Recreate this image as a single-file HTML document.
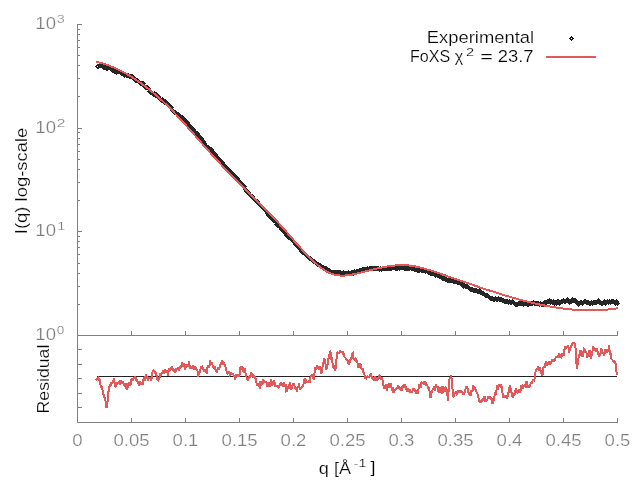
<!DOCTYPE html>
<html><head><meta charset="utf-8"><style>html,body{margin:0;padding:0;background:#fff;}svg{display:block;will-change:transform;}text{stroke:#fff;stroke-width:0.2px;}</style></head>
<body><svg width="640" height="480" viewBox="0 0 640 480" font-family="Liberation Sans, sans-serif">
<rect width="640" height="480" fill="#fff"/>
<path d="M77.5 24 V422.5 H618 M77 335.5 H618" stroke="#808080" stroke-width="1" fill="none"/>
<path d="M77 335.5h5 M77 304.5h3 M77 286.5h3 M77 273.5h3 M77 263.5h3 M77 254.5h3 M77 247.5h3 M77 241.5h3 M77 236.5h3 M77 231.5h5 M77 200.5h3 M77 182.5h3 M77 169.5h3 M77 159.5h3 M77 151.5h3 M77 144.5h3 M77 138.5h3 M77 132.5h3 M77 128.5h5 M77 96.5h3 M77 78.5h3 M77 65.5h3 M77 55.5h3 M77 47.5h3 M77 40.5h3 M77 34.5h3 M77 29.5h3 M77 24.5h5 M77.5 335v-4 M77.5 422v-4 M131.5 335v-4 M131.5 422v-4 M185.5 335v-4 M185.5 422v-4 M239.5 335v-4 M239.5 422v-4 M293.5 335v-4 M293.5 422v-4 M347.5 335v-4 M347.5 422v-4 M401.5 335v-4 M401.5 422v-4 M455.5 335v-4 M455.5 422v-4 M509.5 335v-4 M509.5 422v-4 M563.5 335v-4 M563.5 422v-4 M617.5 335v-4 M617.5 422v-4 M77 349.5h5 M77 364.5h5 M77 378.5h5 M77 393.5h5 M77 407.5h5" stroke="#808080" stroke-width="1" fill="none"/>
<text transform="translate(35.361,339.8) scale(1.1569,1)" font-size="16" fill="#808080">10</text>
<text transform="translate(56.843,333.8) scale(1.1739,1)" font-size="11.5" fill="#808080">0</text>
<text transform="translate(35.361,235.6) scale(1.1569,1)" font-size="16" fill="#808080">10</text>
<text transform="translate(57.330,229.6) scale(1.2587,1)" font-size="11.5" fill="#808080">1</text>
<text transform="translate(35.361,133.0) scale(1.1569,1)" font-size="16" fill="#808080">10</text>
<text transform="translate(56.406,127.0) scale(1.4102,1)" font-size="11.5" fill="#808080">2</text>
<text transform="translate(35.361,28.8) scale(1.1569,1)" font-size="16" fill="#808080">10</text>
<text transform="translate(56.834,22.8) scale(1.2509,1)" font-size="11.5" fill="#808080">3</text>
<text transform="translate(77.50,446.3) scale(1.16,1)" font-size="16" fill="#808080" text-anchor="middle">0</text>
<text transform="translate(131.50,446.3) scale(1.16,1)" font-size="16" fill="#808080" text-anchor="middle">0.05</text>
<text transform="translate(185.50,446.3) scale(1.16,1)" font-size="16" fill="#808080" text-anchor="middle">0.1</text>
<text transform="translate(239.50,446.3) scale(1.16,1)" font-size="16" fill="#808080" text-anchor="middle">0.15</text>
<text transform="translate(293.50,446.3) scale(1.16,1)" font-size="16" fill="#808080" text-anchor="middle">0.2</text>
<text transform="translate(347.50,446.3) scale(1.16,1)" font-size="16" fill="#808080" text-anchor="middle">0.25</text>
<text transform="translate(401.50,446.3) scale(1.16,1)" font-size="16" fill="#808080" text-anchor="middle">0.3</text>
<text transform="translate(455.50,446.3) scale(1.16,1)" font-size="16" fill="#808080" text-anchor="middle">0.35</text>
<text transform="translate(509.50,446.3) scale(1.16,1)" font-size="16" fill="#808080" text-anchor="middle">0.4</text>
<text transform="translate(563.50,446.3) scale(1.16,1)" font-size="16" fill="#808080" text-anchor="middle">0.45</text>
<text transform="translate(617.50,446.3) scale(1.16,1)" font-size="16" fill="#808080" text-anchor="middle">0.5</text>
<text transform="translate(27,234.171) rotate(-90) scale(1.1526,1)" font-size="16" fill="#000">I(q) log-scale</text>
<text transform="translate(49.2,413.384) rotate(-90) scale(1.1045,1)" font-size="16" fill="#000">Residual</text>
<text transform="translate(318.833,473.7) scale(1.1302,1)" font-size="16" fill="#000">q [Å</text>
<text transform="translate(353.663,466.8) scale(1.2480,1)" font-size="11.5" fill="#000">-1</text>
<text transform="translate(370.200,473.2) scale(1.2000,1)" font-size="16" fill="#000">]</text>
<text transform="translate(426.770,42.8) scale(1.1500,1)" font-size="16" fill="#000">Experimental</text>
<text transform="translate(410.012,61.6) scale(1.0058,1)" font-size="16" fill="#000">FoXS χ</text>
<text transform="translate(465.917,55.6) scale(1.2672,1)" font-size="11.5" fill="#000">2</text>
<text transform="translate(480.204,61.6) scale(1.3568,1)" font-size="16" fill="#000">=</text>
<text transform="translate(497.700,61.8) scale(1.1523,1)" font-size="16" fill="#000">23.7</text>
<path d="M571 36h1v1h1v1h1v1h-1v1h-1v1h-1v-1h-1v-1h-1v-1h1v-1h1z M571 38h1v1h-1z" fill="#1a1a1a" fill-rule="evenodd" shape-rendering="crispEdges"/>
<path d="M546 57 H596" stroke="#e35858" stroke-width="2"/>
<path d="M97 376.5 H617" stroke="#222" stroke-width="1"/>
<path d="M96.0 380.5 L96.7 379.3 L97.4 378.0 L98.1 377.7 L98.8 379.5 L99.5 379.4 L100.2 382.8 L100.9 387.7 L101.6 386.3 L102.3 388.4 L103.0 393.0 L103.7 395.0 L104.4 397.3 L105.1 398.3 L105.8 403.2 L106.5 407.8 L107.2 404.1 L107.9 399.6 L108.6 390.4 L109.3 387.3 L110.0 384.6 L110.7 386.2 L111.4 382.4 L112.1 383.7 L112.8 381.6 L113.5 379.8 L114.2 378.6 L114.9 385.9 L115.6 386.8 L116.3 386.4 L117.0 382.4 L117.7 383.8 L118.4 382.0 L119.1 381.6 L119.8 384.6 L120.5 380.2 L121.2 381.4 L121.9 384.0 L122.6 381.8 L123.3 383.4 L124.0 384.6 L124.7 385.3 L125.4 383.4 L126.1 386.7 L126.8 390.0 L127.5 383.6 L128.2 387.3 L128.9 384.8 L129.6 382.2 L130.3 386.3 L131.0 382.8 L131.7 378.0 L132.4 379.7 L133.1 379.9 L133.8 377.6 L134.5 378.5 L135.2 376.1 L135.9 378.0 L136.6 381.7 L137.3 379.5 L138.0 383.4 L138.7 384.2 L139.4 385.8 L140.1 382.3 L140.8 382.7 L141.5 382.6 L142.2 384.0 L142.9 383.7 L143.6 378.0 L144.3 378.3 L145.0 380.5 L145.7 374.5 L146.4 376.8 L147.1 377.2 L147.8 380.2 L148.5 379.3 L149.2 377.6 L149.9 377.7 L150.6 378.2 L151.3 380.7 L152.0 374.0 L152.7 371.3 L153.4 370.4 L154.1 370.9 L154.8 372.2 L155.5 371.8 L156.2 375.3 L156.9 375.7 L157.6 380.2 L158.3 380.5 L159.0 378.4 L159.7 377.5 L160.4 373.2 L161.1 374.0 L161.8 372.2 L162.5 373.6 L163.2 370.1 L163.9 373.7 L164.6 369.9 L165.3 369.2 L166.0 372.3 L166.7 370.8 L167.4 372.5 L168.1 376.3 L168.8 369.3 L169.5 368.9 L170.2 369.7 L170.9 369.5 L171.6 367.3 L172.3 367.3 L173.0 370.2 L173.7 370.9 L174.4 368.9 L175.1 371.6 L175.8 371.1 L176.5 368.2 L177.2 370.1 L177.9 367.1 L178.6 370.3 L179.3 368.3 L180.0 367.7 L180.7 365.9 L181.4 366.4 L182.1 362.2 L182.8 363.5 L183.5 366.9 L184.2 362.8 L184.9 369.6 L185.6 363.9 L186.3 368.3 L187.0 364.4 L187.7 367.0 L188.4 365.0 L189.1 361.3 L189.8 367.7 L190.5 369.0 L191.2 366.9 L191.9 367.3 L192.6 367.5 L193.3 365.7 L194.0 369.7 L194.7 366.3 L195.4 368.1 L196.1 368.3 L196.8 370.3 L197.5 370.7 L198.2 376.5 L198.9 372.3 L199.6 373.2 L200.3 369.9 L201.0 367.2 L201.7 366.5 L202.4 366.4 L203.1 369.2 L203.8 370.0 L204.5 371.8 L205.2 370.4 L205.9 370.2 L206.6 373.6 L207.3 367.6 L208.0 365.4 L208.7 366.7 L209.4 367.4 L210.1 360.6 L210.8 363.8 L211.5 363.6 L212.2 362.0 L212.9 367.7 L213.6 366.9 L214.3 368.0 L215.0 367.6 L215.7 371.3 L216.4 370.6 L217.1 372.3 L217.8 368.7 L218.5 366.9 L219.2 370.3 L219.9 365.0 L220.6 365.0 L221.3 362.7 L222.0 360.2 L222.7 361.2 L223.4 364.5 L224.1 363.8 L224.8 365.1 L225.5 366.6 L226.2 370.4 L226.9 371.9 L227.6 373.7 L228.3 373.1 L229.0 371.2 L229.7 375.5 L230.4 375.2 L231.1 372.6 L231.8 373.7 L232.5 373.8 L233.2 374.2 L233.9 376.3 L234.6 375.5 L235.3 380.2 L236.0 373.8 L236.7 377.1 L237.4 375.5 L238.1 375.4 L238.8 376.5 L239.5 374.8 L240.2 368.6 L240.9 366.1 L241.6 369.7 L242.3 365.9 L243.0 369.3 L243.7 372.3 L244.4 368.8 L245.1 369.2 L245.8 375.3 L246.5 376.8 L247.2 378.4 L247.9 381.2 L248.6 378.6 L249.3 376.1 L250.0 377.6 L250.7 374.7 L251.4 372.2 L252.1 375.6 L252.8 375.5 L253.5 377.5 L254.2 375.8 L254.9 377.5 L255.6 378.9 L256.3 381.3 L257.0 385.7 L257.7 383.5 L258.4 385.6 L259.1 385.3 L259.8 388.5 L260.5 381.4 L261.2 385.8 L261.9 383.6 L262.6 383.1 L263.3 379.5 L264.0 380.7 L264.7 382.4 L265.4 381.1 L266.1 382.5 L266.8 382.8 L267.5 386.8 L268.2 385.5 L268.9 382.3 L269.6 386.4 L270.3 383.8 L271.0 379.6 L271.7 383.4 L272.4 385.5 L273.1 381.6 L273.8 380.2 L274.5 381.6 L275.2 386.7 L275.9 385.7 L276.6 386.4 L277.3 386.6 L278.0 386.2 L278.7 387.2 L279.4 386.1 L280.1 384.9 L280.8 382.4 L281.5 385.5 L282.2 383.1 L282.9 386.7 L283.6 382.5 L284.3 385.5 L285.0 386.4 L285.7 384.5 L286.4 391.3 L287.1 391.1 L287.8 385.9 L288.5 387.0 L289.2 385.8 L289.9 381.7 L290.6 389.4 L291.3 389.3 L292.0 388.1 L292.7 384.3 L293.4 384.5 L294.1 383.7 L294.8 388.3 L295.5 388.5 L296.2 389.0 L296.9 391.6 L297.6 386.9 L298.3 386.7 L299.0 383.3 L299.7 389.9 L300.4 388.5 L301.1 388.3 L301.8 387.6 L302.5 386.3 L303.2 385.6 L303.9 381.7 L304.6 378.8 L305.3 378.2 L306.0 382.6 L306.7 382.2 L307.4 382.4 L308.1 382.3 L308.8 380.2 L309.5 382.7 L310.2 378.5 L310.9 375.6 L311.6 375.1 L312.3 374.3 L313.0 377.1 L313.7 379.7 L314.4 373.8 L315.1 368.4 L315.8 368.3 L316.5 368.8 L317.2 365.3 L317.9 367.9 L318.6 366.5 L319.3 369.9 L320.0 366.5 L320.7 370.3 L321.4 373.3 L322.1 370.0 L322.8 365.0 L323.5 362.3 L324.2 359.4 L324.9 359.5 L325.6 364.6 L326.3 369.9 L327.0 367.5 L327.7 364.0 L328.4 358.7 L329.1 357.8 L329.8 351.0 L330.5 352.1 L331.2 359.4 L331.9 357.6 L332.6 364.1 L333.3 367.3 L334.0 366.7 L334.7 369.2 L335.4 370.5 L336.1 362.1 L336.8 357.2 L337.5 352.5 L338.2 352.6 L338.9 352.7 L339.6 352.7 L340.3 350.5 L341.0 352.3 L341.7 352.2 L342.4 353.0 L343.1 351.6 L343.8 354.6 L344.5 357.0 L345.2 357.6 L345.9 358.6 L346.6 359.6 L347.3 359.6 L348.0 361.3 L348.7 364.6 L349.4 362.6 L350.1 361.8 L350.8 356.8 L351.5 359.5 L352.2 353.4 L352.9 353.0 L353.6 358.6 L354.3 359.7 L355.0 359.5 L355.7 357.8 L356.4 361.5 L357.1 361.4 L357.8 364.6 L358.5 368.3 L359.2 365.0 L359.9 364.3 L360.6 364.8 L361.3 368.3 L362.0 369.3 L362.7 368.9 L363.4 372.9 L364.1 371.8 L364.8 377.8 L365.5 378.3 L366.2 378.6 L366.9 375.8 L367.6 378.0 L368.3 377.0 L369.0 376.7 L369.7 376.6 L370.4 374.5 L371.1 374.1 L371.8 378.3 L372.5 377.0 L373.2 378.7 L373.9 381.2 L374.6 376.6 L375.3 378.8 L376.0 380.1 L376.7 379.9 L377.4 377.8 L378.1 380.0 L378.8 378.2 L379.5 375.2 L380.2 375.6 L380.9 378.8 L381.6 379.8 L382.3 376.9 L383.0 385.3 L383.7 385.8 L384.4 389.2 L385.1 387.2 L385.8 386.7 L386.5 384.4 L387.2 391.0 L387.9 384.9 L388.6 387.8 L389.3 383.4 L390.0 386.1 L390.7 383.5 L391.4 387.2 L392.1 391.0 L392.8 387.2 L393.5 392.6 L394.2 391.8 L394.9 389.8 L395.6 389.9 L396.3 388.7 L397.0 388.3 L397.7 386.1 L398.4 385.9 L399.1 388.5 L399.8 388.7 L400.5 388.1 L401.2 389.8 L401.9 390.9 L402.6 385.4 L403.3 387.7 L404.0 385.6 L404.7 384.2 L405.4 388.1 L406.1 386.5 L406.8 391.6 L407.5 388.2 L408.2 391.3 L408.9 390.4 L409.6 389.6 L410.3 392.5 L411.0 391.3 L411.7 393.1 L412.4 391.5 L413.1 388.7 L413.8 389.9 L414.5 389.5 L415.2 391.4 L415.9 389.9 L416.6 393.9 L417.3 390.8 L418.0 393.4 L418.7 387.7 L419.4 384.1 L420.1 385.6 L420.8 387.6 L421.5 382.0 L422.2 382.6 L422.9 382.9 L423.6 381.8 L424.3 384.5 L425.0 381.8 L425.7 382.7 L426.4 386.1 L427.1 384.1 L427.8 387.3 L428.5 387.0 L429.2 389.8 L429.9 391.9 L430.6 398.3 L431.3 392.3 L432.0 391.8 L432.7 389.6 L433.4 388.3 L434.1 386.8 L434.8 391.0 L435.5 385.7 L436.2 385.2 L436.9 386.8 L437.6 386.7 L438.3 391.3 L439.0 391.8 L439.7 388.6 L440.4 388.0 L441.1 390.4 L441.8 394.2 L442.5 386.1 L443.2 392.8 L443.9 388.7 L444.6 392.0 L445.3 386.9 L446.0 387.5 L446.7 389.5 L447.4 394.9 L448.1 401.3 L448.8 385.4 L449.5 378.7 L450.2 377.8 L450.9 375.7 L451.6 378.7 L452.3 384.8 L453.0 397.3 L453.7 395.9 L454.4 392.3 L455.1 393.0 L455.8 391.6 L456.5 393.9 L457.2 395.2 L457.9 391.3 L458.6 390.2 L459.3 391.7 L460.0 390.8 L460.7 390.8 L461.4 392.4 L462.1 390.8 L462.8 394.3 L463.5 393.2 L464.2 393.7 L464.9 391.3 L465.6 388.8 L466.3 386.9 L467.0 386.8 L467.7 388.4 L468.4 392.2 L469.1 393.9 L469.8 393.3 L470.5 395.7 L471.2 391.3 L471.9 391.2 L472.6 390.3 L473.3 385.5 L474.0 388.9 L474.7 388.2 L475.4 388.5 L476.1 390.3 L476.8 392.8 L477.5 393.8 L478.2 397.3 L478.9 398.9 L479.6 402.3 L480.3 400.5 L481.0 402.4 L481.7 401.3 L482.4 399.7 L483.1 398.3 L483.8 400.5 L484.5 396.2 L485.2 400.6 L485.9 400.3 L486.6 400.5 L487.3 400.3 L488.0 397.0 L488.7 396.6 L489.4 397.3 L490.1 396.3 L490.8 398.7 L491.5 398.2 L492.2 403.8 L492.9 403.2 L493.6 401.0 L494.3 397.6 L495.0 392.1 L495.7 395.2 L496.4 391.5 L497.1 385.6 L497.8 390.3 L498.5 385.4 L499.2 384.6 L499.9 384.8 L500.6 387.4 L501.3 384.7 L502.0 388.9 L502.7 394.8 L503.4 397.4 L504.1 396.5 L504.8 396.6 L505.5 395.0 L506.2 396.5 L506.9 399.1 L507.6 396.6 L508.3 393.1 L509.0 392.0 L509.7 385.5 L510.4 387.1 L511.1 391.3 L511.8 393.5 L512.5 397.0 L513.2 397.2 L513.9 394.6 L514.6 394.8 L515.3 390.9 L516.0 388.4 L516.7 393.1 L517.4 392.1 L518.1 393.2 L518.8 389.4 L519.5 392.4 L520.2 391.6 L520.9 389.3 L521.6 384.8 L522.3 386.9 L523.0 387.6 L523.7 386.7 L524.4 384.9 L525.1 386.2 L525.8 387.9 L526.5 381.1 L527.2 386.2 L527.9 386.8 L528.6 386.3 L529.3 387.5 L530.0 385.6 L530.7 383.3 L531.4 382.7 L532.1 383.1 L532.8 379.9 L533.5 380.3 L534.2 380.5 L534.9 377.9 L535.6 371.5 L536.3 370.0 L537.0 368.7 L537.7 369.2 L538.4 366.6 L539.1 371.0 L539.8 367.6 L540.5 370.7 L541.2 372.1 L541.9 375.6 L542.6 374.6 L543.3 367.5 L544.0 366.8 L544.7 367.3 L545.4 364.0 L546.1 361.5 L546.8 365.9 L547.5 364.0 L548.2 363.5 L548.9 361.4 L549.6 364.3 L550.3 361.7 L551.0 364.2 L551.7 360.1 L552.4 360.1 L553.1 362.0 L553.8 359.4 L554.5 361.3 L555.2 359.6 L555.9 356.4 L556.6 357.6 L557.3 355.9 L558.0 357.6 L558.7 354.0 L559.4 353.8 L560.1 356.5 L560.8 358.0 L561.5 356.9 L562.2 353.0 L562.9 354.6 L563.6 355.8 L564.3 350.6 L565.0 347.0 L565.7 347.3 L566.4 347.9 L567.1 346.7 L567.8 346.3 L568.5 348.1 L569.2 352.7 L569.9 347.8 L570.6 347.1 L571.3 346.0 L572.0 345.3 L572.7 341.9 L573.4 343.6 L574.1 342.2 L574.8 344.5 L575.5 347.6 L576.2 359.4 L576.9 368.9 L577.6 364.4 L578.3 359.8 L579.0 354.6 L579.7 355.8 L580.4 350.6 L581.1 351.2 L581.8 351.9 L582.5 356.6 L583.2 352.2 L583.9 348.7 L584.6 349.1 L585.3 352.3 L586.0 350.8 L586.7 353.6 L587.4 357.4 L588.1 354.8 L588.8 353.9 L589.5 350.4 L590.2 355.4 L590.9 358.5 L591.6 355.1 L592.3 353.5 L593.0 346.1 L593.7 349.6 L594.4 347.7 L595.1 349.9 L595.8 351.4 L596.5 350.3 L597.2 348.6 L597.9 353.7 L598.6 354.3 L599.3 356.2 L600.0 354.2 L600.7 353.3 L601.4 347.9 L602.1 353.7 L602.8 351.9 L603.5 353.8 L604.2 355.7 L604.9 351.9 L605.6 349.0 L606.3 351.7 L607.0 352.0 L607.7 351.2 L608.4 350.1 L609.1 344.8 L609.8 354.3 L610.5 353.2 L611.2 358.6 L611.9 359.5 L612.6 360.1 L613.3 361.5 L614.0 361.4 L614.7 362.6 L615.4 361.8 L616.1 366.8 L616.8 374.9 L617.5 374.0" stroke="#e35858" stroke-width="2" fill="none" stroke-linejoin="miter" stroke-miterlimit="2" shape-rendering="crispEdges"/>
<path d="M97 64h1v1h1v1h1v1h-1v1h-1v1h-1v-1h-1v-1h-1v-1h1v-1h1zM98 64h1v1h1v1h1v1h-1v1h-1v1h-1v-1h-1v-1h-1v-1h1v-1h1zM99 63h1v1h1v1h1v1h-1v1h-1v1h-1v-1h-1v-1h-1v-1h1v-1h1zM100 63h1v1h1v1h1v1h-1v1h-1v1h-1v-1h-1v-1h-1v-1h1v-1h1zM101 63h1v1h1v1h1v1h-1v1h-1v1h-1v-1h-1v-1h-1v-1h1v-1h1zM102 64h1v1h1v1h1v1h-1v1h-1v1h-1v-1h-1v-1h-1v-1h1v-1h1zM103 65h1v1h1v1h1v1h-1v1h-1v1h-1v-1h-1v-1h-1v-1h1v-1h1zM104 65h1v1h1v1h1v1h-1v1h-1v1h-1v-1h-1v-1h-1v-1h1v-1h1zM105 65h1v1h1v1h1v1h-1v1h-1v1h-1v-1h-1v-1h-1v-1h1v-1h1zM106 66h1v1h1v1h1v1h-1v1h-1v1h-1v-1h-1v-1h-1v-1h1v-1h1zM107 66h1v1h1v1h1v1h-1v1h-1v1h-1v-1h-1v-1h-1v-1h1v-1h1zM108 65h1v1h1v1h1v1h-1v1h-1v1h-1v-1h-1v-1h-1v-1h1v-1h1zM109 65h1v1h1v1h1v1h-1v1h-1v1h-1v-1h-1v-1h-1v-1h1v-1h1zM110 66h1v1h1v1h1v1h-1v1h-1v1h-1v-1h-1v-1h-1v-1h1v-1h1zM111 66h1v1h1v1h1v1h-1v1h-1v1h-1v-1h-1v-1h-1v-1h1v-1h1zM112 68h1v1h1v1h1v1h-1v1h-1v1h-1v-1h-1v-1h-1v-1h1v-1h1zM113 67h1v1h1v1h1v1h-1v1h-1v1h-1v-1h-1v-1h-1v-1h1v-1h1zM114 69h1v1h1v1h1v1h-1v1h-1v1h-1v-1h-1v-1h-1v-1h1v-1h1zM115 68h1v1h1v1h1v1h-1v1h-1v1h-1v-1h-1v-1h-1v-1h1v-1h1zM116 70h1v1h1v1h1v1h-1v1h-1v1h-1v-1h-1v-1h-1v-1h1v-1h1zM117 69h1v1h1v1h1v1h-1v1h-1v1h-1v-1h-1v-1h-1v-1h1v-1h1zM118 69h1v1h1v1h1v1h-1v1h-1v1h-1v-1h-1v-1h-1v-1h1v-1h1zM119 69h1v1h1v1h1v1h-1v1h-1v1h-1v-1h-1v-1h-1v-1h1v-1h1zM120 70h1v1h1v1h1v1h-1v1h-1v1h-1v-1h-1v-1h-1v-1h1v-1h1zM121 71h1v1h1v1h1v1h-1v1h-1v1h-1v-1h-1v-1h-1v-1h1v-1h1zM122 71h1v1h1v1h1v1h-1v1h-1v1h-1v-1h-1v-1h-1v-1h1v-1h1zM123 71h1v1h1v1h1v1h-1v1h-1v1h-1v-1h-1v-1h-1v-1h1v-1h1zM124 73h1v1h1v1h1v1h-1v1h-1v1h-1v-1h-1v-1h-1v-1h1v-1h1zM125 72h1v1h1v1h1v1h-1v1h-1v1h-1v-1h-1v-1h-1v-1h1v-1h1zM126 73h1v1h1v1h1v1h-1v1h-1v1h-1v-1h-1v-1h-1v-1h1v-1h1zM127 73h1v1h1v1h1v1h-1v1h-1v1h-1v-1h-1v-1h-1v-1h1v-1h1zM128 73h1v1h1v1h1v1h-1v1h-1v1h-1v-1h-1v-1h-1v-1h1v-1h1zM129 74h1v1h1v1h1v1h-1v1h-1v1h-1v-1h-1v-1h-1v-1h1v-1h1zM130 74h1v1h1v1h1v1h-1v1h-1v1h-1v-1h-1v-1h-1v-1h1v-1h1zM131 74h1v1h1v1h1v1h-1v1h-1v1h-1v-1h-1v-1h-1v-1h1v-1h1zM132 74h1v1h1v1h1v1h-1v1h-1v1h-1v-1h-1v-1h-1v-1h1v-1h1zM133 76h1v1h1v1h1v1h-1v1h-1v1h-1v-1h-1v-1h-1v-1h1v-1h1zM134 76h1v1h1v1h1v1h-1v1h-1v1h-1v-1h-1v-1h-1v-1h1v-1h1zM135 78h1v1h1v1h1v1h-1v1h-1v1h-1v-1h-1v-1h-1v-1h1v-1h1zM136 78h1v1h1v1h1v1h-1v1h-1v1h-1v-1h-1v-1h-1v-1h1v-1h1zM137 78h1v1h1v1h1v1h-1v1h-1v1h-1v-1h-1v-1h-1v-1h1v-1h1zM138 79h1v1h1v1h1v1h-1v1h-1v1h-1v-1h-1v-1h-1v-1h1v-1h1zM139 80h1v1h1v1h1v1h-1v1h-1v1h-1v-1h-1v-1h-1v-1h1v-1h1zM140 81h1v1h1v1h1v1h-1v1h-1v1h-1v-1h-1v-1h-1v-1h1v-1h1zM141 81h1v1h1v1h1v1h-1v1h-1v1h-1v-1h-1v-1h-1v-1h1v-1h1zM142 81h1v1h1v1h1v1h-1v1h-1v1h-1v-1h-1v-1h-1v-1h1v-1h1zM143 81h1v1h1v1h1v1h-1v1h-1v1h-1v-1h-1v-1h-1v-1h1v-1h1zM144 84h1v1h1v1h1v1h-1v1h-1v1h-1v-1h-1v-1h-1v-1h1v-1h1zM145 85h1v1h1v1h1v1h-1v1h-1v1h-1v-1h-1v-1h-1v-1h1v-1h1zM146 85h1v1h1v1h1v1h-1v1h-1v1h-1v-1h-1v-1h-1v-1h1v-1h1zM147 85h1v1h1v1h1v1h-1v1h-1v1h-1v-1h-1v-1h-1v-1h1v-1h1zM148 86h1v1h1v1h1v1h-1v1h-1v1h-1v-1h-1v-1h-1v-1h1v-1h1zM149 89h1v1h1v1h1v1h-1v1h-1v1h-1v-1h-1v-1h-1v-1h1v-1h1zM150 90h1v1h1v1h1v1h-1v1h-1v1h-1v-1h-1v-1h-1v-1h1v-1h1zM151 90h1v1h1v1h1v1h-1v1h-1v1h-1v-1h-1v-1h-1v-1h1v-1h1zM152 91h1v1h1v1h1v1h-1v1h-1v1h-1v-1h-1v-1h-1v-1h1v-1h1zM153 92h1v1h1v1h1v1h-1v1h-1v1h-1v-1h-1v-1h-1v-1h1v-1h1zM154 91h1v1h1v1h1v1h-1v1h-1v1h-1v-1h-1v-1h-1v-1h1v-1h1zM155 93h1v1h1v1h1v1h-1v1h-1v1h-1v-1h-1v-1h-1v-1h1v-1h1zM156 92h1v1h1v1h1v1h-1v1h-1v1h-1v-1h-1v-1h-1v-1h1v-1h1zM157 94h1v1h1v1h1v1h-1v1h-1v1h-1v-1h-1v-1h-1v-1h1v-1h1zM158 94h1v1h1v1h1v1h-1v1h-1v1h-1v-1h-1v-1h-1v-1h1v-1h1zM159 96h1v1h1v1h1v1h-1v1h-1v1h-1v-1h-1v-1h-1v-1h1v-1h1zM160 97h1v1h1v1h1v1h-1v1h-1v1h-1v-1h-1v-1h-1v-1h1v-1h1zM161 98h1v1h1v1h1v1h-1v1h-1v1h-1v-1h-1v-1h-1v-1h1v-1h1zM162 97h1v1h1v1h1v1h-1v1h-1v1h-1v-1h-1v-1h-1v-1h1v-1h1zM163 98h1v1h1v1h1v1h-1v1h-1v1h-1v-1h-1v-1h-1v-1h1v-1h1zM164 100h1v1h1v1h1v1h-1v1h-1v1h-1v-1h-1v-1h-1v-1h1v-1h1zM165 99h1v1h1v1h1v1h-1v1h-1v1h-1v-1h-1v-1h-1v-1h1v-1h1zM166 100h1v1h1v1h1v1h-1v1h-1v1h-1v-1h-1v-1h-1v-1h1v-1h1zM167 101h1v1h1v1h1v1h-1v1h-1v1h-1v-1h-1v-1h-1v-1h1v-1h1zM168 103h1v1h1v1h1v1h-1v1h-1v1h-1v-1h-1v-1h-1v-1h1v-1h1zM169 103h1v1h1v1h1v1h-1v1h-1v1h-1v-1h-1v-1h-1v-1h1v-1h1zM170 104h1v1h1v1h1v1h-1v1h-1v1h-1v-1h-1v-1h-1v-1h1v-1h1zM171 105h1v1h1v1h1v1h-1v1h-1v1h-1v-1h-1v-1h-1v-1h1v-1h1zM172 108h1v1h1v1h1v1h-1v1h-1v1h-1v-1h-1v-1h-1v-1h1v-1h1zM173 109h1v1h1v1h1v1h-1v1h-1v1h-1v-1h-1v-1h-1v-1h1v-1h1zM174 110h1v1h1v1h1v1h-1v1h-1v1h-1v-1h-1v-1h-1v-1h1v-1h1zM175 110h1v1h1v1h1v1h-1v1h-1v1h-1v-1h-1v-1h-1v-1h1v-1h1zM176 111h1v1h1v1h1v1h-1v1h-1v1h-1v-1h-1v-1h-1v-1h1v-1h1zM177 112h1v1h1v1h1v1h-1v1h-1v1h-1v-1h-1v-1h-1v-1h1v-1h1zM178 112h1v1h1v1h1v1h-1v1h-1v1h-1v-1h-1v-1h-1v-1h1v-1h1zM179 113h1v1h1v1h1v1h-1v1h-1v1h-1v-1h-1v-1h-1v-1h1v-1h1zM180 115h1v1h1v1h1v1h-1v1h-1v1h-1v-1h-1v-1h-1v-1h1v-1h1zM181 115h1v1h1v1h1v1h-1v1h-1v1h-1v-1h-1v-1h-1v-1h1v-1h1zM182 115h1v1h1v1h1v1h-1v1h-1v1h-1v-1h-1v-1h-1v-1h1v-1h1zM183 116h1v1h1v1h1v1h-1v1h-1v1h-1v-1h-1v-1h-1v-1h1v-1h1zM184 117h1v1h1v1h1v1h-1v1h-1v1h-1v-1h-1v-1h-1v-1h1v-1h1zM185 118h1v1h1v1h1v1h-1v1h-1v1h-1v-1h-1v-1h-1v-1h1v-1h1zM186 119h1v1h1v1h1v1h-1v1h-1v1h-1v-1h-1v-1h-1v-1h1v-1h1zM187 120h1v1h1v1h1v1h-1v1h-1v1h-1v-1h-1v-1h-1v-1h1v-1h1zM188 122h1v1h1v1h1v1h-1v1h-1v1h-1v-1h-1v-1h-1v-1h1v-1h1zM189 123h1v1h1v1h1v1h-1v1h-1v1h-1v-1h-1v-1h-1v-1h1v-1h1zM190 124h1v1h1v1h1v1h-1v1h-1v1h-1v-1h-1v-1h-1v-1h1v-1h1zM191 126h1v1h1v1h1v1h-1v1h-1v1h-1v-1h-1v-1h-1v-1h1v-1h1zM192 127h1v1h1v1h1v1h-1v1h-1v1h-1v-1h-1v-1h-1v-1h1v-1h1zM193 127h1v1h1v1h1v1h-1v1h-1v1h-1v-1h-1v-1h-1v-1h1v-1h1zM194 129h1v1h1v1h1v1h-1v1h-1v1h-1v-1h-1v-1h-1v-1h1v-1h1zM195 131h1v1h1v1h1v1h-1v1h-1v1h-1v-1h-1v-1h-1v-1h1v-1h1zM196 131h1v1h1v1h1v1h-1v1h-1v1h-1v-1h-1v-1h-1v-1h1v-1h1zM197 131h1v1h1v1h1v1h-1v1h-1v1h-1v-1h-1v-1h-1v-1h1v-1h1zM198 133h1v1h1v1h1v1h-1v1h-1v1h-1v-1h-1v-1h-1v-1h1v-1h1zM199 135h1v1h1v1h1v1h-1v1h-1v1h-1v-1h-1v-1h-1v-1h1v-1h1zM200 137h1v1h1v1h1v1h-1v1h-1v1h-1v-1h-1v-1h-1v-1h1v-1h1zM201 136h1v1h1v1h1v1h-1v1h-1v1h-1v-1h-1v-1h-1v-1h1v-1h1zM202 140h1v1h1v1h1v1h-1v1h-1v1h-1v-1h-1v-1h-1v-1h1v-1h1zM203 139h1v1h1v1h1v1h-1v1h-1v1h-1v-1h-1v-1h-1v-1h1v-1h1zM204 141h1v1h1v1h1v1h-1v1h-1v1h-1v-1h-1v-1h-1v-1h1v-1h1zM205 143h1v1h1v1h1v1h-1v1h-1v1h-1v-1h-1v-1h-1v-1h1v-1h1zM206 144h1v1h1v1h1v1h-1v1h-1v1h-1v-1h-1v-1h-1v-1h1v-1h1zM207 145h1v1h1v1h1v1h-1v1h-1v1h-1v-1h-1v-1h-1v-1h1v-1h1zM208 145h1v1h1v1h1v1h-1v1h-1v1h-1v-1h-1v-1h-1v-1h1v-1h1zM209 147h1v1h1v1h1v1h-1v1h-1v1h-1v-1h-1v-1h-1v-1h1v-1h1zM210 148h1v1h1v1h1v1h-1v1h-1v1h-1v-1h-1v-1h-1v-1h1v-1h1zM211 147h1v1h1v1h1v1h-1v1h-1v1h-1v-1h-1v-1h-1v-1h1v-1h1zM212 150h1v1h1v1h1v1h-1v1h-1v1h-1v-1h-1v-1h-1v-1h1v-1h1zM213 150h1v1h1v1h1v1h-1v1h-1v1h-1v-1h-1v-1h-1v-1h1v-1h1zM214 152h1v1h1v1h1v1h-1v1h-1v1h-1v-1h-1v-1h-1v-1h1v-1h1zM215 152h1v1h1v1h1v1h-1v1h-1v1h-1v-1h-1v-1h-1v-1h1v-1h1zM216 154h1v1h1v1h1v1h-1v1h-1v1h-1v-1h-1v-1h-1v-1h1v-1h1zM217 156h1v1h1v1h1v1h-1v1h-1v1h-1v-1h-1v-1h-1v-1h1v-1h1zM218 157h1v1h1v1h1v1h-1v1h-1v1h-1v-1h-1v-1h-1v-1h1v-1h1zM219 157h1v1h1v1h1v1h-1v1h-1v1h-1v-1h-1v-1h-1v-1h1v-1h1zM220 158h1v1h1v1h1v1h-1v1h-1v1h-1v-1h-1v-1h-1v-1h1v-1h1zM221 160h1v1h1v1h1v1h-1v1h-1v1h-1v-1h-1v-1h-1v-1h1v-1h1zM222 160h1v1h1v1h1v1h-1v1h-1v1h-1v-1h-1v-1h-1v-1h1v-1h1zM223 162h1v1h1v1h1v1h-1v1h-1v1h-1v-1h-1v-1h-1v-1h1v-1h1zM224 163h1v1h1v1h1v1h-1v1h-1v1h-1v-1h-1v-1h-1v-1h1v-1h1zM225 165h1v1h1v1h1v1h-1v1h-1v1h-1v-1h-1v-1h-1v-1h1v-1h1zM226 166h1v1h1v1h1v1h-1v1h-1v1h-1v-1h-1v-1h-1v-1h1v-1h1zM227 166h1v1h1v1h1v1h-1v1h-1v1h-1v-1h-1v-1h-1v-1h1v-1h1zM228 168h1v1h1v1h1v1h-1v1h-1v1h-1v-1h-1v-1h-1v-1h1v-1h1zM229 169h1v1h1v1h1v1h-1v1h-1v1h-1v-1h-1v-1h-1v-1h1v-1h1zM230 169h1v1h1v1h1v1h-1v1h-1v1h-1v-1h-1v-1h-1v-1h1v-1h1zM231 171h1v1h1v1h1v1h-1v1h-1v1h-1v-1h-1v-1h-1v-1h1v-1h1zM232 171h1v1h1v1h1v1h-1v1h-1v1h-1v-1h-1v-1h-1v-1h1v-1h1zM233 172h1v1h1v1h1v1h-1v1h-1v1h-1v-1h-1v-1h-1v-1h1v-1h1zM234 174h1v1h1v1h1v1h-1v1h-1v1h-1v-1h-1v-1h-1v-1h1v-1h1zM235 174h1v1h1v1h1v1h-1v1h-1v1h-1v-1h-1v-1h-1v-1h1v-1h1zM236 175h1v1h1v1h1v1h-1v1h-1v1h-1v-1h-1v-1h-1v-1h1v-1h1zM237 176h1v1h1v1h1v1h-1v1h-1v1h-1v-1h-1v-1h-1v-1h1v-1h1zM238 178h1v1h1v1h1v1h-1v1h-1v1h-1v-1h-1v-1h-1v-1h1v-1h1zM239 180h1v1h1v1h1v1h-1v1h-1v1h-1v-1h-1v-1h-1v-1h1v-1h1zM240 180h1v1h1v1h1v1h-1v1h-1v1h-1v-1h-1v-1h-1v-1h1v-1h1zM241 181h1v1h1v1h1v1h-1v1h-1v1h-1v-1h-1v-1h-1v-1h1v-1h1zM242 182h1v1h1v1h1v1h-1v1h-1v1h-1v-1h-1v-1h-1v-1h1v-1h1zM243 183h1v1h1v1h1v1h-1v1h-1v1h-1v-1h-1v-1h-1v-1h1v-1h1zM244 184h1v1h1v1h1v1h-1v1h-1v1h-1v-1h-1v-1h-1v-1h1v-1h1zM245 187h1v1h1v1h1v1h-1v1h-1v1h-1v-1h-1v-1h-1v-1h1v-1h1zM246 189h1v1h1v1h1v1h-1v1h-1v1h-1v-1h-1v-1h-1v-1h1v-1h1zM247 190h1v1h1v1h1v1h-1v1h-1v1h-1v-1h-1v-1h-1v-1h1v-1h1zM248 190h1v1h1v1h1v1h-1v1h-1v1h-1v-1h-1v-1h-1v-1h1v-1h1zM249 192h1v1h1v1h1v1h-1v1h-1v1h-1v-1h-1v-1h-1v-1h1v-1h1zM250 193h1v1h1v1h1v1h-1v1h-1v1h-1v-1h-1v-1h-1v-1h1v-1h1zM251 194h1v1h1v1h1v1h-1v1h-1v1h-1v-1h-1v-1h-1v-1h1v-1h1zM252 194h1v1h1v1h1v1h-1v1h-1v1h-1v-1h-1v-1h-1v-1h1v-1h1zM253 196h1v1h1v1h1v1h-1v1h-1v1h-1v-1h-1v-1h-1v-1h1v-1h1zM254 197h1v1h1v1h1v1h-1v1h-1v1h-1v-1h-1v-1h-1v-1h1v-1h1zM255 198h1v1h1v1h1v1h-1v1h-1v1h-1v-1h-1v-1h-1v-1h1v-1h1zM256 199h1v1h1v1h1v1h-1v1h-1v1h-1v-1h-1v-1h-1v-1h1v-1h1zM257 199h1v1h1v1h1v1h-1v1h-1v1h-1v-1h-1v-1h-1v-1h1v-1h1zM258 201h1v1h1v1h1v1h-1v1h-1v1h-1v-1h-1v-1h-1v-1h1v-1h1zM259 202h1v1h1v1h1v1h-1v1h-1v1h-1v-1h-1v-1h-1v-1h1v-1h1zM260 203h1v1h1v1h1v1h-1v1h-1v1h-1v-1h-1v-1h-1v-1h1v-1h1zM261 204h1v1h1v1h1v1h-1v1h-1v1h-1v-1h-1v-1h-1v-1h1v-1h1zM262 205h1v1h1v1h1v1h-1v1h-1v1h-1v-1h-1v-1h-1v-1h1v-1h1zM263 206h1v1h1v1h1v1h-1v1h-1v1h-1v-1h-1v-1h-1v-1h1v-1h1zM264 207h1v1h1v1h1v1h-1v1h-1v1h-1v-1h-1v-1h-1v-1h1v-1h1zM265 208h1v1h1v1h1v1h-1v1h-1v1h-1v-1h-1v-1h-1v-1h1v-1h1zM266 209h1v1h1v1h1v1h-1v1h-1v1h-1v-1h-1v-1h-1v-1h1v-1h1zM267 211h1v1h1v1h1v1h-1v1h-1v1h-1v-1h-1v-1h-1v-1h1v-1h1zM268 213h1v1h1v1h1v1h-1v1h-1v1h-1v-1h-1v-1h-1v-1h1v-1h1zM269 214h1v1h1v1h1v1h-1v1h-1v1h-1v-1h-1v-1h-1v-1h1v-1h1zM270 214h1v1h1v1h1v1h-1v1h-1v1h-1v-1h-1v-1h-1v-1h1v-1h1zM271 216h1v1h1v1h1v1h-1v1h-1v1h-1v-1h-1v-1h-1v-1h1v-1h1zM272 216h1v1h1v1h1v1h-1v1h-1v1h-1v-1h-1v-1h-1v-1h1v-1h1zM273 218h1v1h1v1h1v1h-1v1h-1v1h-1v-1h-1v-1h-1v-1h1v-1h1zM274 218h1v1h1v1h1v1h-1v1h-1v1h-1v-1h-1v-1h-1v-1h1v-1h1zM275 219h1v1h1v1h1v1h-1v1h-1v1h-1v-1h-1v-1h-1v-1h1v-1h1zM276 222h1v1h1v1h1v1h-1v1h-1v1h-1v-1h-1v-1h-1v-1h1v-1h1zM277 223h1v1h1v1h1v1h-1v1h-1v1h-1v-1h-1v-1h-1v-1h1v-1h1zM278 223h1v1h1v1h1v1h-1v1h-1v1h-1v-1h-1v-1h-1v-1h1v-1h1zM279 224h1v1h1v1h1v1h-1v1h-1v1h-1v-1h-1v-1h-1v-1h1v-1h1zM280 225h1v1h1v1h1v1h-1v1h-1v1h-1v-1h-1v-1h-1v-1h1v-1h1zM281 227h1v1h1v1h1v1h-1v1h-1v1h-1v-1h-1v-1h-1v-1h1v-1h1zM282 227h1v1h1v1h1v1h-1v1h-1v1h-1v-1h-1v-1h-1v-1h1v-1h1zM283 228h1v1h1v1h1v1h-1v1h-1v1h-1v-1h-1v-1h-1v-1h1v-1h1zM284 230h1v1h1v1h1v1h-1v1h-1v1h-1v-1h-1v-1h-1v-1h1v-1h1zM285 231h1v1h1v1h1v1h-1v1h-1v1h-1v-1h-1v-1h-1v-1h1v-1h1zM286 233h1v1h1v1h1v1h-1v1h-1v1h-1v-1h-1v-1h-1v-1h1v-1h1zM287 233h1v1h1v1h1v1h-1v1h-1v1h-1v-1h-1v-1h-1v-1h1v-1h1zM288 235h1v1h1v1h1v1h-1v1h-1v1h-1v-1h-1v-1h-1v-1h1v-1h1zM289 235h1v1h1v1h1v1h-1v1h-1v1h-1v-1h-1v-1h-1v-1h1v-1h1zM290 236h1v1h1v1h1v1h-1v1h-1v1h-1v-1h-1v-1h-1v-1h1v-1h1zM291 236h1v1h1v1h1v1h-1v1h-1v1h-1v-1h-1v-1h-1v-1h1v-1h1zM292 238h1v1h1v1h1v1h-1v1h-1v1h-1v-1h-1v-1h-1v-1h1v-1h1zM293 239h1v1h1v1h1v1h-1v1h-1v1h-1v-1h-1v-1h-1v-1h1v-1h1zM294 240h1v1h1v1h1v1h-1v1h-1v1h-1v-1h-1v-1h-1v-1h1v-1h1zM295 242h1v1h1v1h1v1h-1v1h-1v1h-1v-1h-1v-1h-1v-1h1v-1h1zM296 242h1v1h1v1h1v1h-1v1h-1v1h-1v-1h-1v-1h-1v-1h1v-1h1zM297 243h1v1h1v1h1v1h-1v1h-1v1h-1v-1h-1v-1h-1v-1h1v-1h1zM298 245h1v1h1v1h1v1h-1v1h-1v1h-1v-1h-1v-1h-1v-1h1v-1h1zM299 246h1v1h1v1h1v1h-1v1h-1v1h-1v-1h-1v-1h-1v-1h1v-1h1zM300 247h1v1h1v1h1v1h-1v1h-1v1h-1v-1h-1v-1h-1v-1h1v-1h1zM301 249h1v1h1v1h1v1h-1v1h-1v1h-1v-1h-1v-1h-1v-1h1v-1h1zM302 250h1v1h1v1h1v1h-1v1h-1v1h-1v-1h-1v-1h-1v-1h1v-1h1zM303 250h1v1h1v1h1v1h-1v1h-1v1h-1v-1h-1v-1h-1v-1h1v-1h1zM304 251h1v1h1v1h1v1h-1v1h-1v1h-1v-1h-1v-1h-1v-1h1v-1h1zM305 252h1v1h1v1h1v1h-1v1h-1v1h-1v-1h-1v-1h-1v-1h1v-1h1zM306 253h1v1h1v1h1v1h-1v1h-1v1h-1v-1h-1v-1h-1v-1h1v-1h1zM307 254h1v1h1v1h1v1h-1v1h-1v1h-1v-1h-1v-1h-1v-1h1v-1h1zM308 255h1v1h1v1h1v1h-1v1h-1v1h-1v-1h-1v-1h-1v-1h1v-1h1zM309 256h1v1h1v1h1v1h-1v1h-1v1h-1v-1h-1v-1h-1v-1h1v-1h1zM310 256h1v1h1v1h1v1h-1v1h-1v1h-1v-1h-1v-1h-1v-1h1v-1h1zM311 257h1v1h1v1h1v1h-1v1h-1v1h-1v-1h-1v-1h-1v-1h1v-1h1zM312 258h1v1h1v1h1v1h-1v1h-1v1h-1v-1h-1v-1h-1v-1h1v-1h1zM313 259h1v1h1v1h1v1h-1v1h-1v1h-1v-1h-1v-1h-1v-1h1v-1h1zM314 259h1v1h1v1h1v1h-1v1h-1v1h-1v-1h-1v-1h-1v-1h1v-1h1zM315 260h1v1h1v1h1v1h-1v1h-1v1h-1v-1h-1v-1h-1v-1h1v-1h1zM316 261h1v1h1v1h1v1h-1v1h-1v1h-1v-1h-1v-1h-1v-1h1v-1h1zM317 262h1v1h1v1h1v1h-1v1h-1v1h-1v-1h-1v-1h-1v-1h1v-1h1zM318 262h1v1h1v1h1v1h-1v1h-1v1h-1v-1h-1v-1h-1v-1h1v-1h1zM319 263h1v1h1v1h1v1h-1v1h-1v1h-1v-1h-1v-1h-1v-1h1v-1h1zM320 263h1v1h1v1h1v1h-1v1h-1v1h-1v-1h-1v-1h-1v-1h1v-1h1zM321 264h1v1h1v1h1v1h-1v1h-1v1h-1v-1h-1v-1h-1v-1h1v-1h1zM322 265h1v1h1v1h1v1h-1v1h-1v1h-1v-1h-1v-1h-1v-1h1v-1h1zM323 265h1v1h1v1h1v1h-1v1h-1v1h-1v-1h-1v-1h-1v-1h1v-1h1zM324 266h1v1h1v1h1v1h-1v1h-1v1h-1v-1h-1v-1h-1v-1h1v-1h1zM325 266h1v1h1v1h1v1h-1v1h-1v1h-1v-1h-1v-1h-1v-1h1v-1h1zM326 266h1v1h1v1h1v1h-1v1h-1v1h-1v-1h-1v-1h-1v-1h1v-1h1zM327 267h1v1h1v1h1v1h-1v1h-1v1h-1v-1h-1v-1h-1v-1h1v-1h1zM328 268h1v1h1v1h1v1h-1v1h-1v1h-1v-1h-1v-1h-1v-1h1v-1h1zM329 268h1v1h1v1h1v1h-1v1h-1v1h-1v-1h-1v-1h-1v-1h1v-1h1zM330 269h1v1h1v1h1v1h-1v1h-1v1h-1v-1h-1v-1h-1v-1h1v-1h1zM331 270h1v1h1v1h1v1h-1v1h-1v1h-1v-1h-1v-1h-1v-1h1v-1h1zM332 270h1v1h1v1h1v1h-1v1h-1v1h-1v-1h-1v-1h-1v-1h1v-1h1zM333 270h1v1h1v1h1v1h-1v1h-1v1h-1v-1h-1v-1h-1v-1h1v-1h1zM334 270h1v1h1v1h1v1h-1v1h-1v1h-1v-1h-1v-1h-1v-1h1v-1h1zM335 270h1v1h1v1h1v1h-1v1h-1v1h-1v-1h-1v-1h-1v-1h1v-1h1zM336 270h1v1h1v1h1v1h-1v1h-1v1h-1v-1h-1v-1h-1v-1h1v-1h1zM337 270h1v1h1v1h1v1h-1v1h-1v1h-1v-1h-1v-1h-1v-1h1v-1h1zM338 270h1v1h1v1h1v1h-1v1h-1v1h-1v-1h-1v-1h-1v-1h1v-1h1zM339 270h1v1h1v1h1v1h-1v1h-1v1h-1v-1h-1v-1h-1v-1h1v-1h1zM340 270h1v1h1v1h1v1h-1v1h-1v1h-1v-1h-1v-1h-1v-1h1v-1h1zM341 271h1v1h1v1h1v1h-1v1h-1v1h-1v-1h-1v-1h-1v-1h1v-1h1zM342 271h1v1h1v1h1v1h-1v1h-1v1h-1v-1h-1v-1h-1v-1h1v-1h1zM343 270h1v1h1v1h1v1h-1v1h-1v1h-1v-1h-1v-1h-1v-1h1v-1h1zM344 271h1v1h1v1h1v1h-1v1h-1v1h-1v-1h-1v-1h-1v-1h1v-1h1zM345 271h1v1h1v1h1v1h-1v1h-1v1h-1v-1h-1v-1h-1v-1h1v-1h1zM346 271h1v1h1v1h1v1h-1v1h-1v1h-1v-1h-1v-1h-1v-1h1v-1h1zM347 271h1v1h1v1h1v1h-1v1h-1v1h-1v-1h-1v-1h-1v-1h1v-1h1zM348 270h1v1h1v1h1v1h-1v1h-1v1h-1v-1h-1v-1h-1v-1h1v-1h1zM349 271h1v1h1v1h1v1h-1v1h-1v1h-1v-1h-1v-1h-1v-1h1v-1h1zM350 271h1v1h1v1h1v1h-1v1h-1v1h-1v-1h-1v-1h-1v-1h1v-1h1zM351 270h1v1h1v1h1v1h-1v1h-1v1h-1v-1h-1v-1h-1v-1h1v-1h1zM352 270h1v1h1v1h1v1h-1v1h-1v1h-1v-1h-1v-1h-1v-1h1v-1h1zM353 271h1v1h1v1h1v1h-1v1h-1v1h-1v-1h-1v-1h-1v-1h1v-1h1zM354 269h1v1h1v1h1v1h-1v1h-1v1h-1v-1h-1v-1h-1v-1h1v-1h1zM355 270h1v1h1v1h1v1h-1v1h-1v1h-1v-1h-1v-1h-1v-1h1v-1h1zM356 269h1v1h1v1h1v1h-1v1h-1v1h-1v-1h-1v-1h-1v-1h1v-1h1zM357 269h1v1h1v1h1v1h-1v1h-1v1h-1v-1h-1v-1h-1v-1h1v-1h1zM358 269h1v1h1v1h1v1h-1v1h-1v1h-1v-1h-1v-1h-1v-1h1v-1h1zM359 268h1v1h1v1h1v1h-1v1h-1v1h-1v-1h-1v-1h-1v-1h1v-1h1zM360 268h1v1h1v1h1v1h-1v1h-1v1h-1v-1h-1v-1h-1v-1h1v-1h1zM361 268h1v1h1v1h1v1h-1v1h-1v1h-1v-1h-1v-1h-1v-1h1v-1h1zM362 267h1v1h1v1h1v1h-1v1h-1v1h-1v-1h-1v-1h-1v-1h1v-1h1zM363 267h1v1h1v1h1v1h-1v1h-1v1h-1v-1h-1v-1h-1v-1h1v-1h1zM364 267h1v1h1v1h1v1h-1v1h-1v1h-1v-1h-1v-1h-1v-1h1v-1h1zM365 267h1v1h1v1h1v1h-1v1h-1v1h-1v-1h-1v-1h-1v-1h1v-1h1zM366 267h1v1h1v1h1v1h-1v1h-1v1h-1v-1h-1v-1h-1v-1h1v-1h1zM367 266h1v1h1v1h1v1h-1v1h-1v1h-1v-1h-1v-1h-1v-1h1v-1h1zM368 267h1v1h1v1h1v1h-1v1h-1v1h-1v-1h-1v-1h-1v-1h1v-1h1zM369 266h1v1h1v1h1v1h-1v1h-1v1h-1v-1h-1v-1h-1v-1h1v-1h1zM370 266h1v1h1v1h1v1h-1v1h-1v1h-1v-1h-1v-1h-1v-1h1v-1h1zM371 266h1v1h1v1h1v1h-1v1h-1v1h-1v-1h-1v-1h-1v-1h1v-1h1zM372 266h1v1h1v1h1v1h-1v1h-1v1h-1v-1h-1v-1h-1v-1h1v-1h1zM373 266h1v1h1v1h1v1h-1v1h-1v1h-1v-1h-1v-1h-1v-1h1v-1h1zM374 266h1v1h1v1h1v1h-1v1h-1v1h-1v-1h-1v-1h-1v-1h1v-1h1zM375 266h1v1h1v1h1v1h-1v1h-1v1h-1v-1h-1v-1h-1v-1h1v-1h1zM376 266h1v1h1v1h1v1h-1v1h-1v1h-1v-1h-1v-1h-1v-1h1v-1h1zM377 266h1v1h1v1h1v1h-1v1h-1v1h-1v-1h-1v-1h-1v-1h1v-1h1zM378 266h1v1h1v1h1v1h-1v1h-1v1h-1v-1h-1v-1h-1v-1h1v-1h1zM379 267h1v1h1v1h1v1h-1v1h-1v1h-1v-1h-1v-1h-1v-1h1v-1h1zM380 266h1v1h1v1h1v1h-1v1h-1v1h-1v-1h-1v-1h-1v-1h1v-1h1zM381 267h1v1h1v1h1v1h-1v1h-1v1h-1v-1h-1v-1h-1v-1h1v-1h1zM382 266h1v1h1v1h1v1h-1v1h-1v1h-1v-1h-1v-1h-1v-1h1v-1h1zM383 266h1v1h1v1h1v1h-1v1h-1v1h-1v-1h-1v-1h-1v-1h1v-1h1zM384 266h1v1h1v1h1v1h-1v1h-1v1h-1v-1h-1v-1h-1v-1h1v-1h1zM385 266h1v1h1v1h1v1h-1v1h-1v1h-1v-1h-1v-1h-1v-1h1v-1h1zM386 266h1v1h1v1h1v1h-1v1h-1v1h-1v-1h-1v-1h-1v-1h1v-1h1zM387 266h1v1h1v1h1v1h-1v1h-1v1h-1v-1h-1v-1h-1v-1h1v-1h1zM388 266h1v1h1v1h1v1h-1v1h-1v1h-1v-1h-1v-1h-1v-1h1v-1h1zM389 266h1v1h1v1h1v1h-1v1h-1v1h-1v-1h-1v-1h-1v-1h1v-1h1zM390 266h1v1h1v1h1v1h-1v1h-1v1h-1v-1h-1v-1h-1v-1h1v-1h1zM391 266h1v1h1v1h1v1h-1v1h-1v1h-1v-1h-1v-1h-1v-1h1v-1h1zM392 265h1v1h1v1h1v1h-1v1h-1v1h-1v-1h-1v-1h-1v-1h1v-1h1zM393 265h1v1h1v1h1v1h-1v1h-1v1h-1v-1h-1v-1h-1v-1h1v-1h1zM394 265h1v1h1v1h1v1h-1v1h-1v1h-1v-1h-1v-1h-1v-1h1v-1h1zM395 266h1v1h1v1h1v1h-1v1h-1v1h-1v-1h-1v-1h-1v-1h1v-1h1zM396 266h1v1h1v1h1v1h-1v1h-1v1h-1v-1h-1v-1h-1v-1h1v-1h1zM397 266h1v1h1v1h1v1h-1v1h-1v1h-1v-1h-1v-1h-1v-1h1v-1h1zM398 265h1v1h1v1h1v1h-1v1h-1v1h-1v-1h-1v-1h-1v-1h1v-1h1zM399 266h1v1h1v1h1v1h-1v1h-1v1h-1v-1h-1v-1h-1v-1h1v-1h1zM400 265h1v1h1v1h1v1h-1v1h-1v1h-1v-1h-1v-1h-1v-1h1v-1h1zM401 265h1v1h1v1h1v1h-1v1h-1v1h-1v-1h-1v-1h-1v-1h1v-1h1zM402 265h1v1h1v1h1v1h-1v1h-1v1h-1v-1h-1v-1h-1v-1h1v-1h1zM403 265h1v1h1v1h1v1h-1v1h-1v1h-1v-1h-1v-1h-1v-1h1v-1h1zM404 266h1v1h1v1h1v1h-1v1h-1v1h-1v-1h-1v-1h-1v-1h1v-1h1zM405 266h1v1h1v1h1v1h-1v1h-1v1h-1v-1h-1v-1h-1v-1h1v-1h1zM406 266h1v1h1v1h1v1h-1v1h-1v1h-1v-1h-1v-1h-1v-1h1v-1h1zM407 266h1v1h1v1h1v1h-1v1h-1v1h-1v-1h-1v-1h-1v-1h1v-1h1zM408 266h1v1h1v1h1v1h-1v1h-1v1h-1v-1h-1v-1h-1v-1h1v-1h1zM409 266h1v1h1v1h1v1h-1v1h-1v1h-1v-1h-1v-1h-1v-1h1v-1h1zM410 265h1v1h1v1h1v1h-1v1h-1v1h-1v-1h-1v-1h-1v-1h1v-1h1zM411 266h1v1h1v1h1v1h-1v1h-1v1h-1v-1h-1v-1h-1v-1h1v-1h1zM412 266h1v1h1v1h1v1h-1v1h-1v1h-1v-1h-1v-1h-1v-1h1v-1h1zM413 266h1v1h1v1h1v1h-1v1h-1v1h-1v-1h-1v-1h-1v-1h1v-1h1zM414 267h1v1h1v1h1v1h-1v1h-1v1h-1v-1h-1v-1h-1v-1h1v-1h1zM415 267h1v1h1v1h1v1h-1v1h-1v1h-1v-1h-1v-1h-1v-1h1v-1h1zM416 267h1v1h1v1h1v1h-1v1h-1v1h-1v-1h-1v-1h-1v-1h1v-1h1zM417 268h1v1h1v1h1v1h-1v1h-1v1h-1v-1h-1v-1h-1v-1h1v-1h1zM418 268h1v1h1v1h1v1h-1v1h-1v1h-1v-1h-1v-1h-1v-1h1v-1h1zM419 268h1v1h1v1h1v1h-1v1h-1v1h-1v-1h-1v-1h-1v-1h1v-1h1zM420 267h1v1h1v1h1v1h-1v1h-1v1h-1v-1h-1v-1h-1v-1h1v-1h1zM421 268h1v1h1v1h1v1h-1v1h-1v1h-1v-1h-1v-1h-1v-1h1v-1h1zM422 268h1v1h1v1h1v1h-1v1h-1v1h-1v-1h-1v-1h-1v-1h1v-1h1zM423 268h1v1h1v1h1v1h-1v1h-1v1h-1v-1h-1v-1h-1v-1h1v-1h1zM424 268h1v1h1v1h1v1h-1v1h-1v1h-1v-1h-1v-1h-1v-1h1v-1h1zM425 269h1v1h1v1h1v1h-1v1h-1v1h-1v-1h-1v-1h-1v-1h1v-1h1zM426 268h1v1h1v1h1v1h-1v1h-1v1h-1v-1h-1v-1h-1v-1h1v-1h1zM427 269h1v1h1v1h1v1h-1v1h-1v1h-1v-1h-1v-1h-1v-1h1v-1h1zM428 270h1v1h1v1h1v1h-1v1h-1v1h-1v-1h-1v-1h-1v-1h1v-1h1zM429 270h1v1h1v1h1v1h-1v1h-1v1h-1v-1h-1v-1h-1v-1h1v-1h1zM430 271h1v1h1v1h1v1h-1v1h-1v1h-1v-1h-1v-1h-1v-1h1v-1h1zM431 271h1v1h1v1h1v1h-1v1h-1v1h-1v-1h-1v-1h-1v-1h1v-1h1zM432 271h1v1h1v1h1v1h-1v1h-1v1h-1v-1h-1v-1h-1v-1h1v-1h1zM433 271h1v1h1v1h1v1h-1v1h-1v1h-1v-1h-1v-1h-1v-1h1v-1h1zM434 272h1v1h1v1h1v1h-1v1h-1v1h-1v-1h-1v-1h-1v-1h1v-1h1zM435 273h1v1h1v1h1v1h-1v1h-1v1h-1v-1h-1v-1h-1v-1h1v-1h1zM436 272h1v1h1v1h1v1h-1v1h-1v1h-1v-1h-1v-1h-1v-1h1v-1h1zM437 273h1v1h1v1h1v1h-1v1h-1v1h-1v-1h-1v-1h-1v-1h1v-1h1zM438 273h1v1h1v1h1v1h-1v1h-1v1h-1v-1h-1v-1h-1v-1h1v-1h1zM439 274h1v1h1v1h1v1h-1v1h-1v1h-1v-1h-1v-1h-1v-1h1v-1h1zM440 274h1v1h1v1h1v1h-1v1h-1v1h-1v-1h-1v-1h-1v-1h1v-1h1zM441 274h1v1h1v1h1v1h-1v1h-1v1h-1v-1h-1v-1h-1v-1h1v-1h1zM442 276h1v1h1v1h1v1h-1v1h-1v1h-1v-1h-1v-1h-1v-1h1v-1h1zM443 276h1v1h1v1h1v1h-1v1h-1v1h-1v-1h-1v-1h-1v-1h1v-1h1zM444 276h1v1h1v1h1v1h-1v1h-1v1h-1v-1h-1v-1h-1v-1h1v-1h1zM445 277h1v1h1v1h1v1h-1v1h-1v1h-1v-1h-1v-1h-1v-1h1v-1h1zM446 277h1v1h1v1h1v1h-1v1h-1v1h-1v-1h-1v-1h-1v-1h1v-1h1zM447 278h1v1h1v1h1v1h-1v1h-1v1h-1v-1h-1v-1h-1v-1h1v-1h1zM448 278h1v1h1v1h1v1h-1v1h-1v1h-1v-1h-1v-1h-1v-1h1v-1h1zM449 278h1v1h1v1h1v1h-1v1h-1v1h-1v-1h-1v-1h-1v-1h1v-1h1zM450 278h1v1h1v1h1v1h-1v1h-1v1h-1v-1h-1v-1h-1v-1h1v-1h1zM451 278h1v1h1v1h1v1h-1v1h-1v1h-1v-1h-1v-1h-1v-1h1v-1h1zM452 278h1v1h1v1h1v1h-1v1h-1v1h-1v-1h-1v-1h-1v-1h1v-1h1zM453 279h1v1h1v1h1v1h-1v1h-1v1h-1v-1h-1v-1h-1v-1h1v-1h1zM454 279h1v1h1v1h1v1h-1v1h-1v1h-1v-1h-1v-1h-1v-1h1v-1h1zM455 279h1v1h1v1h1v1h-1v1h-1v1h-1v-1h-1v-1h-1v-1h1v-1h1zM456 279h1v1h1v1h1v1h-1v1h-1v1h-1v-1h-1v-1h-1v-1h1v-1h1zM457 280h1v1h1v1h1v1h-1v1h-1v1h-1v-1h-1v-1h-1v-1h1v-1h1zM458 280h1v1h1v1h1v1h-1v1h-1v1h-1v-1h-1v-1h-1v-1h1v-1h1zM459 280h1v1h1v1h1v1h-1v1h-1v1h-1v-1h-1v-1h-1v-1h1v-1h1zM460 281h1v1h1v1h1v1h-1v1h-1v1h-1v-1h-1v-1h-1v-1h1v-1h1zM461 281h1v1h1v1h1v1h-1v1h-1v1h-1v-1h-1v-1h-1v-1h1v-1h1zM462 282h1v1h1v1h1v1h-1v1h-1v1h-1v-1h-1v-1h-1v-1h1v-1h1zM463 284h1v1h1v1h1v1h-1v1h-1v1h-1v-1h-1v-1h-1v-1h1v-1h1zM464 283h1v1h1v1h1v1h-1v1h-1v1h-1v-1h-1v-1h-1v-1h1v-1h1zM465 284h1v1h1v1h1v1h-1v1h-1v1h-1v-1h-1v-1h-1v-1h1v-1h1zM466 284h1v1h1v1h1v1h-1v1h-1v1h-1v-1h-1v-1h-1v-1h1v-1h1zM467 284h1v1h1v1h1v1h-1v1h-1v1h-1v-1h-1v-1h-1v-1h1v-1h1zM468 285h1v1h1v1h1v1h-1v1h-1v1h-1v-1h-1v-1h-1v-1h1v-1h1zM469 286h1v1h1v1h1v1h-1v1h-1v1h-1v-1h-1v-1h-1v-1h1v-1h1zM470 287h1v1h1v1h1v1h-1v1h-1v1h-1v-1h-1v-1h-1v-1h1v-1h1zM471 287h1v1h1v1h1v1h-1v1h-1v1h-1v-1h-1v-1h-1v-1h1v-1h1zM472 287h1v1h1v1h1v1h-1v1h-1v1h-1v-1h-1v-1h-1v-1h1v-1h1zM473 288h1v1h1v1h1v1h-1v1h-1v1h-1v-1h-1v-1h-1v-1h1v-1h1zM474 288h1v1h1v1h1v1h-1v1h-1v1h-1v-1h-1v-1h-1v-1h1v-1h1zM475 288h1v1h1v1h1v1h-1v1h-1v1h-1v-1h-1v-1h-1v-1h1v-1h1zM476 288h1v1h1v1h1v1h-1v1h-1v1h-1v-1h-1v-1h-1v-1h1v-1h1zM477 289h1v1h1v1h1v1h-1v1h-1v1h-1v-1h-1v-1h-1v-1h1v-1h1zM478 289h1v1h1v1h1v1h-1v1h-1v1h-1v-1h-1v-1h-1v-1h1v-1h1zM479 288h1v1h1v1h1v1h-1v1h-1v1h-1v-1h-1v-1h-1v-1h1v-1h1zM480 290h1v1h1v1h1v1h-1v1h-1v1h-1v-1h-1v-1h-1v-1h1v-1h1zM481 290h1v1h1v1h1v1h-1v1h-1v1h-1v-1h-1v-1h-1v-1h1v-1h1zM482 291h1v1h1v1h1v1h-1v1h-1v1h-1v-1h-1v-1h-1v-1h1v-1h1zM483 291h1v1h1v1h1v1h-1v1h-1v1h-1v-1h-1v-1h-1v-1h1v-1h1zM484 292h1v1h1v1h1v1h-1v1h-1v1h-1v-1h-1v-1h-1v-1h1v-1h1zM485 293h1v1h1v1h1v1h-1v1h-1v1h-1v-1h-1v-1h-1v-1h1v-1h1zM486 293h1v1h1v1h1v1h-1v1h-1v1h-1v-1h-1v-1h-1v-1h1v-1h1zM487 293h1v1h1v1h1v1h-1v1h-1v1h-1v-1h-1v-1h-1v-1h1v-1h1zM488 294h1v1h1v1h1v1h-1v1h-1v1h-1v-1h-1v-1h-1v-1h1v-1h1zM489 295h1v1h1v1h1v1h-1v1h-1v1h-1v-1h-1v-1h-1v-1h1v-1h1zM490 296h1v1h1v1h1v1h-1v1h-1v1h-1v-1h-1v-1h-1v-1h1v-1h1zM491 296h1v1h1v1h1v1h-1v1h-1v1h-1v-1h-1v-1h-1v-1h1v-1h1zM492 296h1v1h1v1h1v1h-1v1h-1v1h-1v-1h-1v-1h-1v-1h1v-1h1zM493 297h1v1h1v1h1v1h-1v1h-1v1h-1v-1h-1v-1h-1v-1h1v-1h1zM494 297h1v1h1v1h1v1h-1v1h-1v1h-1v-1h-1v-1h-1v-1h1v-1h1zM495 296h1v1h1v1h1v1h-1v1h-1v1h-1v-1h-1v-1h-1v-1h1v-1h1zM496 297h1v1h1v1h1v1h-1v1h-1v1h-1v-1h-1v-1h-1v-1h1v-1h1zM497 297h1v1h1v1h1v1h-1v1h-1v1h-1v-1h-1v-1h-1v-1h1v-1h1zM498 296h1v1h1v1h1v1h-1v1h-1v1h-1v-1h-1v-1h-1v-1h1v-1h1zM499 297h1v1h1v1h1v1h-1v1h-1v1h-1v-1h-1v-1h-1v-1h1v-1h1zM500 297h1v1h1v1h1v1h-1v1h-1v1h-1v-1h-1v-1h-1v-1h1v-1h1zM501 297h1v1h1v1h1v1h-1v1h-1v1h-1v-1h-1v-1h-1v-1h1v-1h1zM502 298h1v1h1v1h1v1h-1v1h-1v1h-1v-1h-1v-1h-1v-1h1v-1h1zM503 298h1v1h1v1h1v1h-1v1h-1v1h-1v-1h-1v-1h-1v-1h1v-1h1zM504 299h1v1h1v1h1v1h-1v1h-1v1h-1v-1h-1v-1h-1v-1h1v-1h1zM505 299h1v1h1v1h1v1h-1v1h-1v1h-1v-1h-1v-1h-1v-1h1v-1h1zM506 299h1v1h1v1h1v1h-1v1h-1v1h-1v-1h-1v-1h-1v-1h1v-1h1zM507 299h1v1h1v1h1v1h-1v1h-1v1h-1v-1h-1v-1h-1v-1h1v-1h1zM508 300h1v1h1v1h1v1h-1v1h-1v1h-1v-1h-1v-1h-1v-1h1v-1h1zM509 299h1v1h1v1h1v1h-1v1h-1v1h-1v-1h-1v-1h-1v-1h1v-1h1zM510 300h1v1h1v1h1v1h-1v1h-1v1h-1v-1h-1v-1h-1v-1h1v-1h1zM511 300h1v1h1v1h1v1h-1v1h-1v1h-1v-1h-1v-1h-1v-1h1v-1h1zM512 299h1v1h1v1h1v1h-1v1h-1v1h-1v-1h-1v-1h-1v-1h1v-1h1zM513 300h1v1h1v1h1v1h-1v1h-1v1h-1v-1h-1v-1h-1v-1h1v-1h1zM514 301h1v1h1v1h1v1h-1v1h-1v1h-1v-1h-1v-1h-1v-1h1v-1h1zM515 302h1v1h1v1h1v1h-1v1h-1v1h-1v-1h-1v-1h-1v-1h1v-1h1zM516 302h1v1h1v1h1v1h-1v1h-1v1h-1v-1h-1v-1h-1v-1h1v-1h1zM517 302h1v1h1v1h1v1h-1v1h-1v1h-1v-1h-1v-1h-1v-1h1v-1h1zM518 301h1v1h1v1h1v1h-1v1h-1v1h-1v-1h-1v-1h-1v-1h1v-1h1zM519 301h1v1h1v1h1v1h-1v1h-1v1h-1v-1h-1v-1h-1v-1h1v-1h1zM520 301h1v1h1v1h1v1h-1v1h-1v1h-1v-1h-1v-1h-1v-1h1v-1h1zM521 301h1v1h1v1h1v1h-1v1h-1v1h-1v-1h-1v-1h-1v-1h1v-1h1zM522 300h1v1h1v1h1v1h-1v1h-1v1h-1v-1h-1v-1h-1v-1h1v-1h1zM523 302h1v1h1v1h1v1h-1v1h-1v1h-1v-1h-1v-1h-1v-1h1v-1h1zM524 301h1v1h1v1h1v1h-1v1h-1v1h-1v-1h-1v-1h-1v-1h1v-1h1zM525 301h1v1h1v1h1v1h-1v1h-1v1h-1v-1h-1v-1h-1v-1h1v-1h1zM526 301h1v1h1v1h1v1h-1v1h-1v1h-1v-1h-1v-1h-1v-1h1v-1h1zM527 302h1v1h1v1h1v1h-1v1h-1v1h-1v-1h-1v-1h-1v-1h1v-1h1zM528 302h1v1h1v1h1v1h-1v1h-1v1h-1v-1h-1v-1h-1v-1h1v-1h1zM529 301h1v1h1v1h1v1h-1v1h-1v1h-1v-1h-1v-1h-1v-1h1v-1h1zM530 301h1v1h1v1h1v1h-1v1h-1v1h-1v-1h-1v-1h-1v-1h1v-1h1zM531 301h1v1h1v1h1v1h-1v1h-1v1h-1v-1h-1v-1h-1v-1h1v-1h1zM532 301h1v1h1v1h1v1h-1v1h-1v1h-1v-1h-1v-1h-1v-1h1v-1h1zM533 300h1v1h1v1h1v1h-1v1h-1v1h-1v-1h-1v-1h-1v-1h1v-1h1zM534 301h1v1h1v1h1v1h-1v1h-1v1h-1v-1h-1v-1h-1v-1h1v-1h1zM535 301h1v1h1v1h1v1h-1v1h-1v1h-1v-1h-1v-1h-1v-1h1v-1h1zM536 301h1v1h1v1h1v1h-1v1h-1v1h-1v-1h-1v-1h-1v-1h1v-1h1zM537 301h1v1h1v1h1v1h-1v1h-1v1h-1v-1h-1v-1h-1v-1h1v-1h1zM538 301h1v1h1v1h1v1h-1v1h-1v1h-1v-1h-1v-1h-1v-1h1v-1h1zM539 302h1v1h1v1h1v1h-1v1h-1v1h-1v-1h-1v-1h-1v-1h1v-1h1zM540 301h1v1h1v1h1v1h-1v1h-1v1h-1v-1h-1v-1h-1v-1h1v-1h1zM541 302h1v1h1v1h1v1h-1v1h-1v1h-1v-1h-1v-1h-1v-1h1v-1h1zM542 302h1v1h1v1h1v1h-1v1h-1v1h-1v-1h-1v-1h-1v-1h1v-1h1zM543 302h1v1h1v1h1v1h-1v1h-1v1h-1v-1h-1v-1h-1v-1h1v-1h1zM544 300h1v1h1v1h1v1h-1v1h-1v1h-1v-1h-1v-1h-1v-1h1v-1h1zM545 300h1v1h1v1h1v1h-1v1h-1v1h-1v-1h-1v-1h-1v-1h1v-1h1zM546 300h1v1h1v1h1v1h-1v1h-1v1h-1v-1h-1v-1h-1v-1h1v-1h1zM547 299h1v1h1v1h1v1h-1v1h-1v1h-1v-1h-1v-1h-1v-1h1v-1h1zM548 299h1v1h1v1h1v1h-1v1h-1v1h-1v-1h-1v-1h-1v-1h1v-1h1zM549 298h1v1h1v1h1v1h-1v1h-1v1h-1v-1h-1v-1h-1v-1h1v-1h1zM550 300h1v1h1v1h1v1h-1v1h-1v1h-1v-1h-1v-1h-1v-1h1v-1h1zM551 299h1v1h1v1h1v1h-1v1h-1v1h-1v-1h-1v-1h-1v-1h1v-1h1zM552 300h1v1h1v1h1v1h-1v1h-1v1h-1v-1h-1v-1h-1v-1h1v-1h1zM553 299h1v1h1v1h1v1h-1v1h-1v1h-1v-1h-1v-1h-1v-1h1v-1h1zM554 301h1v1h1v1h1v1h-1v1h-1v1h-1v-1h-1v-1h-1v-1h1v-1h1zM555 300h1v1h1v1h1v1h-1v1h-1v1h-1v-1h-1v-1h-1v-1h1v-1h1zM556 301h1v1h1v1h1v1h-1v1h-1v1h-1v-1h-1v-1h-1v-1h1v-1h1zM557 299h1v1h1v1h1v1h-1v1h-1v1h-1v-1h-1v-1h-1v-1h1v-1h1zM558 299h1v1h1v1h1v1h-1v1h-1v1h-1v-1h-1v-1h-1v-1h1v-1h1zM559 301h1v1h1v1h1v1h-1v1h-1v1h-1v-1h-1v-1h-1v-1h1v-1h1zM560 300h1v1h1v1h1v1h-1v1h-1v1h-1v-1h-1v-1h-1v-1h1v-1h1zM561 299h1v1h1v1h1v1h-1v1h-1v1h-1v-1h-1v-1h-1v-1h1v-1h1zM562 299h1v1h1v1h1v1h-1v1h-1v1h-1v-1h-1v-1h-1v-1h1v-1h1zM563 298h1v1h1v1h1v1h-1v1h-1v1h-1v-1h-1v-1h-1v-1h1v-1h1zM564 299h1v1h1v1h1v1h-1v1h-1v1h-1v-1h-1v-1h-1v-1h1v-1h1zM565 299h1v1h1v1h1v1h-1v1h-1v1h-1v-1h-1v-1h-1v-1h1v-1h1zM566 298h1v1h1v1h1v1h-1v1h-1v1h-1v-1h-1v-1h-1v-1h1v-1h1zM567 297h1v1h1v1h1v1h-1v1h-1v1h-1v-1h-1v-1h-1v-1h1v-1h1zM568 299h1v1h1v1h1v1h-1v1h-1v1h-1v-1h-1v-1h-1v-1h1v-1h1zM569 300h1v1h1v1h1v1h-1v1h-1v1h-1v-1h-1v-1h-1v-1h1v-1h1zM570 299h1v1h1v1h1v1h-1v1h-1v1h-1v-1h-1v-1h-1v-1h1v-1h1zM571 299h1v1h1v1h1v1h-1v1h-1v1h-1v-1h-1v-1h-1v-1h1v-1h1zM572 297h1v1h1v1h1v1h-1v1h-1v1h-1v-1h-1v-1h-1v-1h1v-1h1zM573 298h1v1h1v1h1v1h-1v1h-1v1h-1v-1h-1v-1h-1v-1h1v-1h1zM574 298h1v1h1v1h1v1h-1v1h-1v1h-1v-1h-1v-1h-1v-1h1v-1h1zM575 298h1v1h1v1h1v1h-1v1h-1v1h-1v-1h-1v-1h-1v-1h1v-1h1zM576 300h1v1h1v1h1v1h-1v1h-1v1h-1v-1h-1v-1h-1v-1h1v-1h1zM577 300h1v1h1v1h1v1h-1v1h-1v1h-1v-1h-1v-1h-1v-1h1v-1h1zM578 302h1v1h1v1h1v1h-1v1h-1v1h-1v-1h-1v-1h-1v-1h1v-1h1zM579 301h1v1h1v1h1v1h-1v1h-1v1h-1v-1h-1v-1h-1v-1h1v-1h1zM580 300h1v1h1v1h1v1h-1v1h-1v1h-1v-1h-1v-1h-1v-1h1v-1h1zM581 300h1v1h1v1h1v1h-1v1h-1v1h-1v-1h-1v-1h-1v-1h1v-1h1zM582 301h1v1h1v1h1v1h-1v1h-1v1h-1v-1h-1v-1h-1v-1h1v-1h1zM583 300h1v1h1v1h1v1h-1v1h-1v1h-1v-1h-1v-1h-1v-1h1v-1h1zM584 299h1v1h1v1h1v1h-1v1h-1v1h-1v-1h-1v-1h-1v-1h1v-1h1zM585 299h1v1h1v1h1v1h-1v1h-1v1h-1v-1h-1v-1h-1v-1h1v-1h1zM586 300h1v1h1v1h1v1h-1v1h-1v1h-1v-1h-1v-1h-1v-1h1v-1h1zM587 300h1v1h1v1h1v1h-1v1h-1v1h-1v-1h-1v-1h-1v-1h1v-1h1zM588 300h1v1h1v1h1v1h-1v1h-1v1h-1v-1h-1v-1h-1v-1h1v-1h1zM589 301h1v1h1v1h1v1h-1v1h-1v1h-1v-1h-1v-1h-1v-1h1v-1h1zM590 301h1v1h1v1h1v1h-1v1h-1v1h-1v-1h-1v-1h-1v-1h1v-1h1zM591 300h1v1h1v1h1v1h-1v1h-1v1h-1v-1h-1v-1h-1v-1h1v-1h1zM592 301h1v1h1v1h1v1h-1v1h-1v1h-1v-1h-1v-1h-1v-1h1v-1h1zM593 300h1v1h1v1h1v1h-1v1h-1v1h-1v-1h-1v-1h-1v-1h1v-1h1zM594 300h1v1h1v1h1v1h-1v1h-1v1h-1v-1h-1v-1h-1v-1h1v-1h1zM595 300h1v1h1v1h1v1h-1v1h-1v1h-1v-1h-1v-1h-1v-1h1v-1h1zM596 300h1v1h1v1h1v1h-1v1h-1v1h-1v-1h-1v-1h-1v-1h1v-1h1zM597 299h1v1h1v1h1v1h-1v1h-1v1h-1v-1h-1v-1h-1v-1h1v-1h1zM598 298h1v1h1v1h1v1h-1v1h-1v1h-1v-1h-1v-1h-1v-1h1v-1h1zM599 300h1v1h1v1h1v1h-1v1h-1v1h-1v-1h-1v-1h-1v-1h1v-1h1zM600 300h1v1h1v1h1v1h-1v1h-1v1h-1v-1h-1v-1h-1v-1h1v-1h1zM601 301h1v1h1v1h1v1h-1v1h-1v1h-1v-1h-1v-1h-1v-1h1v-1h1zM602 301h1v1h1v1h1v1h-1v1h-1v1h-1v-1h-1v-1h-1v-1h1v-1h1zM603 300h1v1h1v1h1v1h-1v1h-1v1h-1v-1h-1v-1h-1v-1h1v-1h1zM604 299h1v1h1v1h1v1h-1v1h-1v1h-1v-1h-1v-1h-1v-1h1v-1h1zM605 301h1v1h1v1h1v1h-1v1h-1v1h-1v-1h-1v-1h-1v-1h1v-1h1zM606 300h1v1h1v1h1v1h-1v1h-1v1h-1v-1h-1v-1h-1v-1h1v-1h1zM607 299h1v1h1v1h1v1h-1v1h-1v1h-1v-1h-1v-1h-1v-1h1v-1h1zM608 300h1v1h1v1h1v1h-1v1h-1v1h-1v-1h-1v-1h-1v-1h1v-1h1zM609 299h1v1h1v1h1v1h-1v1h-1v1h-1v-1h-1v-1h-1v-1h1v-1h1zM610 300h1v1h1v1h1v1h-1v1h-1v1h-1v-1h-1v-1h-1v-1h1v-1h1zM611 299h1v1h1v1h1v1h-1v1h-1v1h-1v-1h-1v-1h-1v-1h1v-1h1zM612 299h1v1h1v1h1v1h-1v1h-1v1h-1v-1h-1v-1h-1v-1h1v-1h1zM613 299h1v1h1v1h1v1h-1v1h-1v1h-1v-1h-1v-1h-1v-1h1v-1h1zM614 300h1v1h1v1h1v1h-1v1h-1v1h-1v-1h-1v-1h-1v-1h1v-1h1zM615 301h1v1h1v1h1v1h-1v1h-1v1h-1v-1h-1v-1h-1v-1h1v-1h1zM616 299h1v1h1v1h1v1h-1v1h-1v1h-1v-1h-1v-1h-1v-1h1v-1h1zM617 301h1v1h1v1h1v1h-1v1h-1v1h-1v-1h-1v-1h-1v-1h1v-1h1z" fill="#262626" shape-rendering="crispEdges"/>
<rect x="97" y="66" width="1" height="1" fill="#fff" shape-rendering="crispEdges"/>
<path d="M96.0 61.8 L97.0 62.0 L98.0 62.2 L99.0 62.5 L100.0 62.8 L101.0 63.0 L102.0 63.3 L103.0 63.6 L104.0 63.9 L105.0 64.2 L106.0 64.6 L107.0 64.9 L108.0 65.3 L109.0 65.6 L110.0 66.0 L111.0 66.4 L112.0 66.8 L113.0 67.2 L114.0 67.6 L115.0 68.1 L116.0 68.5 L117.0 69.0 L118.0 69.4 L119.0 69.9 L120.0 70.4 L121.0 70.9 L122.0 71.4 L123.0 71.9 L124.0 72.5 L125.0 73.0 L126.0 73.6 L127.0 74.1 L128.0 74.7 L129.0 75.3 L130.0 75.9 L131.0 76.5 L132.0 77.1 L133.0 77.8 L134.0 78.4 L135.0 79.1 L136.0 79.7 L137.0 80.4 L138.0 81.1 L139.0 81.8 L140.0 82.5 L141.0 83.2 L142.0 83.9 L143.0 84.7 L144.0 85.4 L145.0 86.2 L146.0 86.9 L147.0 87.7 L148.0 88.5 L149.0 89.3 L150.0 90.1 L151.0 90.9 L152.0 91.7 L153.0 92.6 L154.0 93.4 L155.0 94.3 L156.0 95.2 L157.0 96.0 L158.0 96.9 L159.0 97.8 L160.0 98.7 L161.0 99.7 L162.0 100.6 L163.0 101.5 L164.0 102.5 L165.0 103.4 L166.0 104.4 L167.0 105.4 L168.0 106.3 L169.0 107.3 L170.0 108.3 L171.0 109.4 L172.0 110.4 L173.0 111.4 L174.0 112.4 L175.0 113.5 L176.0 114.5 L177.0 115.6 L178.0 116.7 L179.0 117.7 L180.0 118.8 L181.0 119.9 L182.0 121.0 L183.0 122.1 L184.0 123.2 L185.0 124.3 L186.0 125.4 L187.0 126.5 L188.0 127.6 L189.0 128.7 L190.0 129.9 L191.0 131.0 L192.0 132.1 L193.0 133.3 L194.0 134.4 L195.0 135.5 L196.0 136.6 L197.0 137.8 L198.0 138.9 L199.0 140.1 L200.0 141.2 L201.0 142.3 L202.0 143.5 L203.0 144.6 L204.0 145.7 L205.0 146.9 L206.0 148.0 L207.0 149.1 L208.0 150.2 L209.0 151.4 L210.0 152.5 L211.0 153.6 L212.0 154.7 L213.0 155.8 L214.0 156.9 L215.0 158.0 L216.0 159.1 L217.0 160.2 L218.0 161.3 L219.0 162.4 L220.0 163.4 L221.0 164.5 L222.0 165.6 L223.0 166.6 L224.0 167.7 L225.0 168.7 L226.0 169.8 L227.0 170.8 L228.0 171.8 L229.0 172.8 L230.0 173.9 L231.0 174.9 L232.0 175.9 L233.0 176.9 L234.0 177.9 L235.0 178.9 L236.0 179.9 L237.0 180.9 L238.0 181.9 L239.0 182.9 L240.0 183.9 L241.0 184.9 L242.0 185.8 L243.0 186.8 L244.0 187.8 L245.0 188.8 L246.0 189.8 L247.0 190.8 L248.0 191.7 L249.0 192.7 L250.0 193.7 L251.0 194.7 L252.0 195.7 L253.0 196.7 L254.0 197.7 L255.0 198.6 L256.0 199.6 L257.0 200.6 L258.0 201.6 L259.0 202.6 L260.0 203.6 L261.0 204.6 L262.0 205.6 L263.0 206.7 L264.0 207.7 L265.0 208.7 L266.0 209.7 L267.0 210.7 L268.0 211.8 L269.0 212.8 L270.0 213.9 L271.0 214.9 L272.0 216.0 L273.0 217.0 L274.0 218.1 L275.0 219.2 L276.0 220.2 L277.0 221.3 L278.0 222.4 L279.0 223.5 L280.0 224.6 L281.0 225.7 L282.0 226.8 L283.0 228.0 L284.0 229.1 L285.0 230.2 L286.0 231.4 L287.0 232.5 L288.0 233.7 L289.0 234.8 L290.0 236.0 L291.0 237.1 L292.0 238.3 L293.0 239.4 L294.0 240.6 L295.0 241.7 L296.0 242.9 L297.0 244.0 L298.0 245.1 L299.0 246.2 L300.0 247.4 L301.0 248.5 L302.0 249.6 L303.0 250.6 L304.0 251.7 L305.0 252.8 L306.0 253.9 L307.0 254.9 L308.0 255.9 L309.0 257.0 L310.0 258.0 L311.0 259.0 L312.0 259.9 L313.0 260.9 L314.0 261.8 L315.0 262.7 L316.0 263.6 L317.0 264.5 L318.0 265.4 L319.0 266.2 L320.0 267.0 L321.0 267.7 L322.0 268.5 L323.0 269.2 L324.0 269.9 L325.0 270.5 L326.0 271.1 L327.0 271.7 L328.0 272.2 L329.0 272.7 L330.0 273.1 L331.0 273.5 L332.0 273.9 L333.0 274.2 L334.0 274.5 L335.0 274.8 L336.0 275.0 L337.0 275.2 L338.0 275.3 L339.0 275.4 L340.0 275.5 L341.0 275.5 L342.0 275.6 L343.0 275.6 L344.0 275.5 L345.0 275.5 L346.0 275.4 L347.0 275.3 L348.0 275.2 L349.0 275.1 L350.0 274.9 L351.0 274.8 L352.0 274.6 L353.0 274.4 L354.0 274.2 L355.0 274.0 L356.0 273.8 L357.0 273.5 L358.0 273.3 L359.0 273.1 L360.0 272.8 L361.0 272.6 L362.0 272.3 L363.0 272.1 L364.0 271.8 L365.0 271.5 L366.0 271.3 L367.0 271.0 L368.0 270.8 L369.0 270.5 L370.0 270.3 L371.0 270.0 L372.0 269.8 L373.0 269.5 L374.0 269.3 L375.0 269.0 L376.0 268.8 L377.0 268.6 L378.0 268.3 L379.0 268.1 L380.0 267.9 L381.0 267.7 L382.0 267.5 L383.0 267.3 L384.0 267.1 L385.0 266.9 L386.0 266.7 L387.0 266.5 L388.0 266.4 L389.0 266.2 L390.0 266.1 L391.0 265.9 L392.0 265.8 L393.0 265.7 L394.0 265.6 L395.0 265.5 L396.0 265.4 L397.0 265.3 L398.0 265.3 L399.0 265.2 L400.0 265.2 L401.0 265.2 L402.0 265.2 L403.0 265.2 L404.0 265.2 L405.0 265.2 L406.0 265.3 L407.0 265.3 L408.0 265.4 L409.0 265.5 L410.0 265.6 L411.0 265.8 L412.0 265.9 L413.0 266.1 L414.0 266.2 L415.0 266.4 L416.0 266.6 L417.0 266.8 L418.0 267.0 L419.0 267.3 L420.0 267.5 L421.0 267.7 L422.0 268.0 L423.0 268.3 L424.0 268.5 L425.0 268.8 L426.0 269.1 L427.0 269.4 L428.0 269.7 L429.0 270.0 L430.0 270.3 L431.0 270.6 L432.0 271.0 L433.0 271.3 L434.0 271.6 L435.0 272.0 L436.0 272.3 L437.0 272.6 L438.0 273.0 L439.0 273.3 L440.0 273.6 L441.0 274.0 L442.0 274.3 L443.0 274.7 L444.0 275.0 L445.0 275.3 L446.0 275.7 L447.0 276.0 L448.0 276.4 L449.0 276.7 L450.0 277.1 L451.0 277.4 L452.0 277.7 L453.0 278.1 L454.0 278.4 L455.0 278.8 L456.0 279.1 L457.0 279.5 L458.0 279.8 L459.0 280.2 L460.0 280.5 L461.0 280.9 L462.0 281.2 L463.0 281.5 L464.0 281.9 L465.0 282.2 L466.0 282.6 L467.0 282.9 L468.0 283.3 L469.0 283.6 L470.0 284.0 L471.0 284.3 L472.0 284.6 L473.0 285.0 L474.0 285.3 L475.0 285.7 L476.0 286.0 L477.0 286.3 L478.0 286.7 L479.0 287.0 L480.0 287.4 L481.0 287.7 L482.0 288.0 L483.0 288.4 L484.0 288.7 L485.0 289.0 L486.0 289.4 L487.0 289.7 L488.0 290.0 L489.0 290.3 L490.0 290.7 L491.0 291.0 L492.0 291.3 L493.0 291.6 L494.0 292.0 L495.0 292.3 L496.0 292.6 L497.0 292.9 L498.0 293.2 L499.0 293.5 L500.0 293.9 L501.0 294.2 L502.0 294.5 L503.0 294.8 L504.0 295.1 L505.0 295.4 L506.0 295.7 L507.0 296.0 L508.0 296.3 L509.0 296.6 L510.0 296.9 L511.0 297.2 L512.0 297.5 L513.0 297.8 L514.0 298.0 L515.0 298.3 L516.0 298.6 L517.0 298.9 L518.0 299.2 L519.0 299.4 L520.0 299.7 L521.0 300.0 L522.0 300.2 L523.0 300.5 L524.0 300.8 L525.0 301.0 L526.0 301.3 L527.0 301.5 L528.0 301.8 L529.0 302.0 L530.0 302.3 L531.0 302.5 L532.0 302.8 L533.0 303.0 L534.0 303.2 L535.0 303.5 L536.0 303.7 L537.0 303.9 L538.0 304.1 L539.0 304.4 L540.0 304.6 L541.0 304.8 L542.0 305.0 L543.0 305.2 L544.0 305.4 L545.0 305.6 L546.0 305.8 L547.0 306.0 L548.0 306.2 L549.0 306.4 L550.0 306.5 L551.0 306.7 L552.0 306.9 L553.0 307.1 L554.0 307.2 L555.0 307.4 L556.0 307.5 L557.0 307.7 L558.0 307.8 L559.0 308.0 L560.0 308.1 L561.0 308.3 L562.0 308.4 L563.0 308.5 L564.0 308.7 L565.0 308.8 L566.0 308.9 L567.0 309.0 L568.0 309.1 L569.0 309.2 L570.0 309.3 L571.0 309.4 L572.0 309.5 L573.0 309.6 L574.0 309.7 L575.0 309.8 L576.0 309.8 L577.0 309.9 L578.0 310.0 L579.0 310.0 L580.0 310.1 L581.0 310.1 L582.0 310.2 L583.0 310.2 L584.0 310.3 L585.0 310.3 L586.0 310.3 L587.0 310.3 L588.0 310.3 L589.0 310.4 L590.0 310.4 L591.0 310.4 L592.0 310.4 L593.0 310.3 L594.0 310.3 L595.0 310.3 L596.0 310.3 L597.0 310.2 L598.0 310.2 L599.0 310.2 L600.0 310.1 L601.0 310.0 L602.0 310.0 L603.0 309.9 L604.0 309.8 L605.0 309.8 L606.0 309.7 L607.0 309.6 L608.0 309.5 L609.0 309.4 L610.0 309.3 L611.0 309.2 L612.0 309.1 L613.0 308.9 L614.0 308.8 L615.0 308.7 L616.0 308.5 L617.0 308.4 L618.0 308.2" stroke="#e35858" stroke-width="2" fill="none" shape-rendering="crispEdges"/>
</svg></body></html>
